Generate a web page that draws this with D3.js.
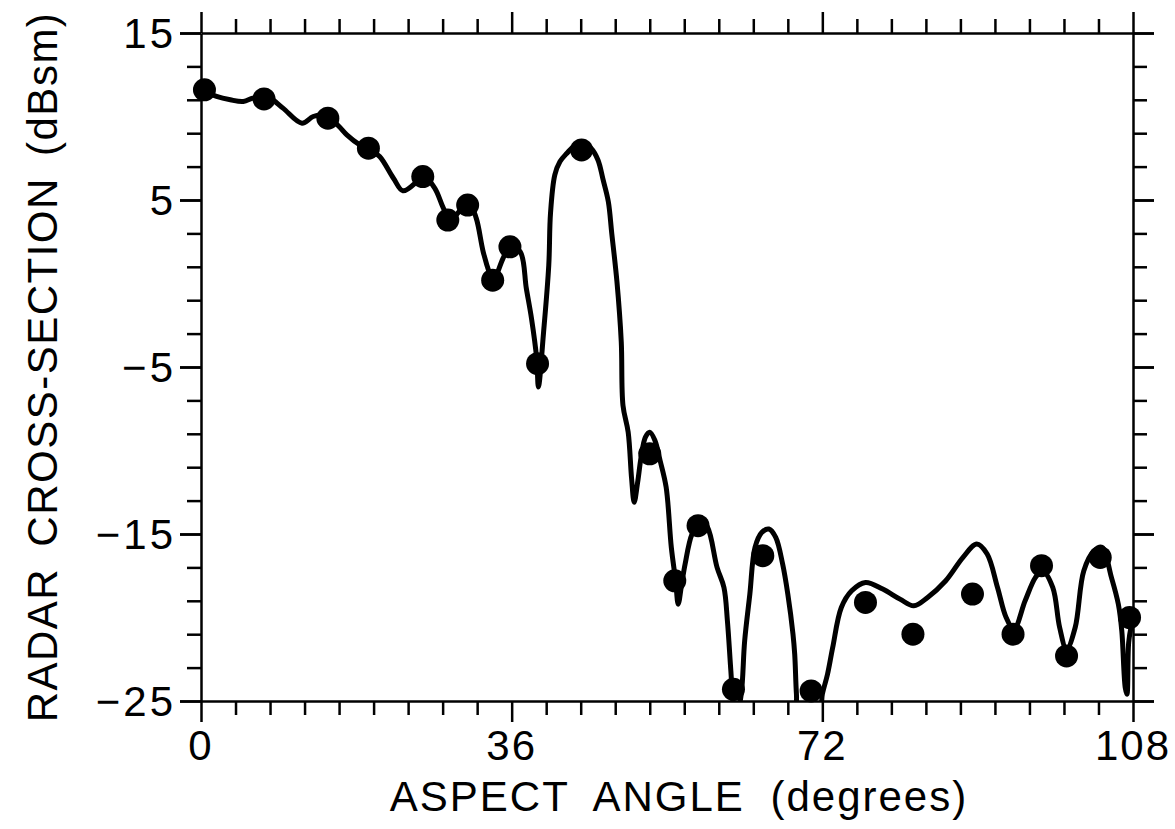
<!DOCTYPE html>
<html>
  <head>
    <meta charset="utf-8">
    <title>Radar cross-section vs aspect angle</title>
    <script src="https://cdn.jsdelivr.net/npm/d3@7/dist/d3.min.js"></script>
    <style>
      body {
        margin: 0px;
        overflow: hidden;
        background: white;
      }

      .frame line, .frame path {
        stroke: black;
        stroke-width: 2.5px;
      }

      .tick-label {
        font-family: "Liberation Sans", Arial, sans-serif;
        font-size: 42px;
        fill: black;
      }

      .title {
        font-family: "Liberation Sans", Arial, sans-serif;
        font-size: 42px;
        letter-spacing: 2px;
        word-spacing: 12px;
        fill: black;
      }

      .calc {
        fill: none;
        stroke: black;
        stroke-width: 5px;
        stroke-linejoin: round;
      }
    </style>
  </head>
  <body>
    <svg id="container" width="1175" height="829"></svg>

    <script type="text/javascript">
      // calculated RCS curve (solid line)
      var curveAngle = [0, 1.8, 3.4, 4.9, 6.0, 7.0, 8.0, 9.5, 11.7, 13.0, 14.5, 16.0, 16.9, 18.4, 19.6,
        20.7, 22.3, 23.4, 25.0, 25.7, 27.1, 28.1, 28.9, 30.4, 31.1, 31.9, 32.7, 33.5, 33.8, 35.0,
        35.8, 37.0, 37.7, 38.3, 38.9, 39.1, 39.7, 40.3, 40.5, 41.0, 41.6, 42.4, 43.4, 44.3, 45.2,
        46.0, 46.6, 47.2, 47.6, 48.2, 48.7, 48.9, 49.5, 49.9, 50.2, 50.6, 51.0, 51.5, 52.0, 52.6,
        53.2, 53.9, 54.5, 55.0, 55.3, 55.7, 56.1, 56.9, 57.9, 58.7, 59.8, 60.6, 61.0, 61.4, 61.7,
        62.1, 62.6, 63.0, 63.6, 64.2, 65.0, 65.8, 66.6, 67.4, 68.0, 68.6, 68.8, 69.0, 69.3, 71.6,
        72.0, 72.6, 73.2, 74.2, 75.4, 77.0, 79.0, 81.0, 82.6, 84.2, 86.3, 88.3, 89.9, 91.1, 92.3,
        93.3, 94.2, 95.5, 96.7, 97.5, 98.7, 99.5, 100.3, 101.3, 102.3, 103.5, 104.4, 105.5, 106.3,
        106.7, 107.1, 107.3, 107.5, 107.8];
      var curveRcs = [11.6, 11.2, 11.0, 10.9, 11.1, 11.2, 11.1, 10.5, 9.6, 10.0, 10.1, 9.4, 8.9, 8.3, 8.0,
        7.6, 6.3, 5.55, 6.1, 6.5, 5.7, 4.5, 3.8, 4.6, 4.8, 3.9, 1.9, 0.5, 0.1, 1.5,
        2.3, 1.9, -0.3, -2.1, -4.5, -6.2, -2.9, 1.1, 4.2, 6.5, 7.3, 7.8, 8.3, 8.4, 8.1,
        7.4, 6.2, 4.9, 3.0, 0.1, -3.5, -7.3, -8.9, -11.7, -13.1, -11.9, -10.4, -9.2, -8.9, -9.4,
        -10.6, -12.2, -15.8, -17.8, -19.2, -18.0, -16.8, -15.0, -14.2, -14.6, -17.0, -18.2, -20.2, -23.2, -25.2,
        -25.8, -24.6, -21.4, -18.6, -15.8, -14.9, -14.7, -15.2, -16.8, -18.6, -21.0, -22.2, -24.6, -26.5, -26.0,
        -24.6, -23.4, -21.8, -19.4, -18.4, -17.9, -18.3, -18.9, -19.3, -18.8, -17.8, -16.4, -15.6, -16.2, -18.2,
        -20.0, -20.7, -19.0, -17.6, -17.2, -18.2, -20.6, -21.9, -20.6, -17.2, -16.0, -15.8, -17.6, -19.2,
        -20.8, -24.2, -24.6, -21.5, -20.5];

      // measured points (dots)
      var measAngle = [0.4, 7.3, 14.7, 19.4, 25.7, 28.6, 30.9, 33.8, 35.8, 39.0, 44.1, 52.0,
        54.9, 57.6, 61.7, 65.1, 70.7, 77.0, 82.5, 89.4, 94.1, 97.4, 100.3, 104.2, 107.6];
      var measRcs = [11.6, 11.05, 9.9, 8.1, 6.4, 3.8, 4.7, 0.2, 2.2, -4.8, 8.0, -10.2,
        -17.8, -14.5, -24.3, -16.3, -24.4, -19.1, -21.0, -18.6, -21.0, -16.9, -22.3, -16.4, -20.0];

      var xTicks = [0, 36, 72, 108];
      var yTicks = [15, 5, -5, -15, -25];

      var margin = { left: 201, top: 33 },
        width = 932,
        height = 668,
        svg = d3.select('#container');

      var x = d3.scaleLinear().domain([0, 108]).range([0, width]);
      var y = d3.scaleLinear().domain([-25, 15]).range([height, 0]);

      var g = svg.append('g')
        .attr('transform', 'translate(' + margin.left + ',' + margin.top + ')');

      /*
        Frame with ticks on all four sides, pointing outwards
      */
      var xMinor = d3.range(0, 109, 4),
        yMinor = d3.range(-25, 16, 2).concat(yTicks);
      var tickLen = function(isMajor) { return isMajor ? 21 : 14; };

      var frame = g.append('g').attr('class', 'frame');

      frame.append('g')
        .attr('transform', 'translate(0,' + height + ')')
        .call(d3.axisBottom(x).tickValues(xMinor).tickFormat('').tickSizeOuter(0))
        .call(function(a) { a.selectAll('.tick line').attr('y2', function(d) { return tickLen(xTicks.indexOf(d) >= 0); }); });

      frame.append('g')
        .call(d3.axisTop(x).tickValues(xMinor).tickFormat('').tickSizeOuter(0))
        .call(function(a) { a.selectAll('.tick line').attr('y2', function(d) { return -tickLen(xTicks.indexOf(d) >= 0); }); });

      frame.append('g')
        .call(d3.axisLeft(y).tickValues(yMinor).tickFormat('').tickSizeOuter(0))
        .call(function(a) { a.selectAll('.tick line').attr('x2', function(d) { return -tickLen(yTicks.indexOf(d) >= 0); }); });

      frame.append('g')
        .attr('transform', 'translate(' + width + ',0)')
        .call(d3.axisRight(y).tickValues(yMinor).tickFormat('').tickSizeOuter(0))
        .call(function(a) { a.selectAll('.tick line').attr('x2', function(d) { return tickLen(yTicks.indexOf(d) >= 0); }); });

      frame.selectAll('.domain').attr('stroke-width', 3);

      // tick labels
      g.selectAll('.xlab')
        .data(xTicks)
        .enter().append('text')
        .attr('class', 'tick-label')
        .attr('x', function(d) { return x(d); })
        .attr('y', height + 59)
        .attr('text-anchor', 'middle')
        .style('letter-spacing', '2px')
        .text(function(d) { return d; });

      g.selectAll('.ylab')
        .data(yTicks)
        .enter().append('text')
        .attr('class', 'tick-label')
        .attr('x', -25)
        .attr('y', function(d) { return y(d) + 15; })
        .attr('text-anchor', 'end')
        .style('letter-spacing', '3px')
        .text(function(d) { return d < 0 ? '\u2212' + Math.abs(d) : d; });

      // axis titles
      svg.append('text')
        .attr('class', 'title')
        .attr('x', 679)
        .attr('y', 811)
        .attr('text-anchor', 'middle')
        .text('ASPECT ANGLE (degrees)');

      svg.append('text')
        .attr('class', 'title')
        .attr('transform', 'translate(57,367) rotate(-90)')
        .attr('text-anchor', 'middle')
        .style('letter-spacing', '1.5px')
        .style('word-spacing', '8px')
        .text('RADAR CROSS-SECTION (dBsm)');

      /*
        Data
      */
      g.append('clipPath').attr('id', 'plot-clip')
        .append('rect').attr('width', width).attr('height', height);

      var calc = curveAngle.map(function(a, i) { return [a, curveRcs[i]]; });
      var line = d3.line()
        .x(function(d) { return x(d[0]); })
        .y(function(d) { return y(d[1]); })
        .curve(d3.curveCatmullRom.alpha(0.5));

      g.append('path')
        .datum(calc)
        .attr('class', 'calc')
        .attr('clip-path', 'url(#plot-clip)')
        .attr('d', line);

      g.selectAll('.meas')
        .data(measAngle)
        .enter().append('circle')
        .attr('class', 'meas')
        .attr('cx', function(d) { return x(d); })
        .attr('cy', function(d, i) { return y(measRcs[i]); })
        .attr('r', 11.5)
        .attr('fill', 'black');
    </script>
  </body>
</html>
